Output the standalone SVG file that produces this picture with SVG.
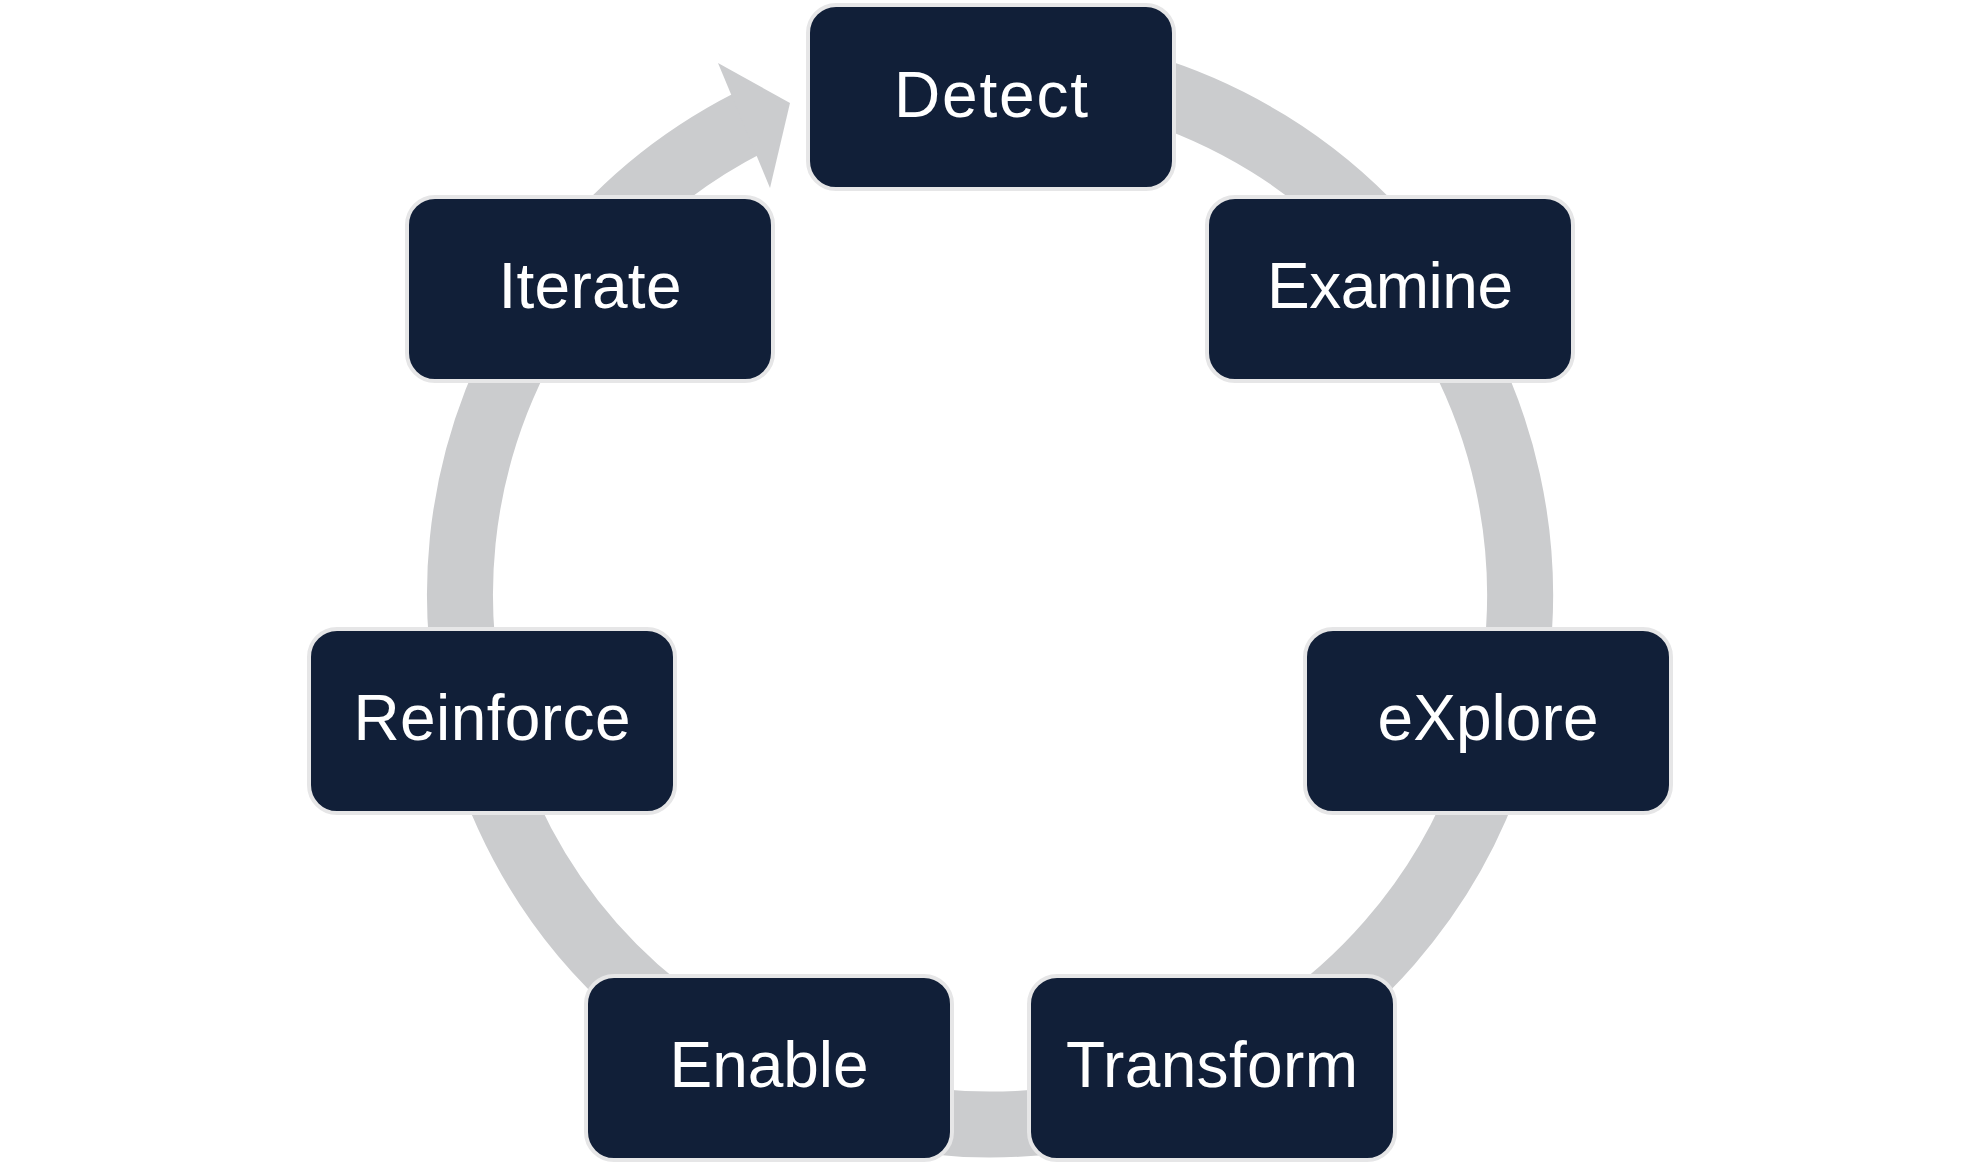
<svg xmlns="http://www.w3.org/2000/svg" width="1980" height="1168" viewBox="0 0 1980 1168">
  <style>
    .box { fill: #111F38; stroke: #E6E6E7; stroke-width: 4; }
    .lbl { fill: #FFFFFF; font-family: "Liberation Sans", Arial, sans-serif; font-size: 64px; text-anchor: middle; }
    .ring { fill: none; stroke: #CBCCCE; stroke-width: 66; stroke-linecap: butt; }
    .head { fill: #CBCCCE; }
  </style>
  <rect width="1980" height="1168" fill="#FFFFFF"/>
  <g id="connectors">
    <path class="ring" d="M 898.0 72.6 A 530 530 0 1 1 749.4 122.3"/>
    <polygon class="head" points="718,63 790,103 770,188"/>
  </g>
  <g id="node-detect">
    <rect class="box" x="808" y="5" width="366" height="184" rx="28"/>
    <text class="lbl" x="991" y="117" textLength="194">Detect</text>
  </g>
  <g id="node-examine">
    <rect class="box" x="1207" y="197" width="366" height="184" rx="28"/>
    <text class="lbl" x="1390" y="308" textLength="246">Examine</text>
  </g>
  <g id="node-explore">
    <rect class="box" x="1305" y="629" width="366" height="184" rx="28"/>
    <text class="lbl" x="1488" y="740" textLength="221">eXplore</text>
  </g>
  <g id="node-transform">
    <rect class="box" x="1029" y="976" width="366" height="184" rx="28"/>
    <text class="lbl" x="1212" y="1087" textLength="292">Transform</text>
  </g>
  <g id="node-enable">
    <rect class="box" x="586" y="976" width="366" height="184" rx="28"/>
    <text class="lbl" x="769" y="1087" textLength="199">Enable</text>
  </g>
  <g id="node-reinforce">
    <rect class="box" x="309" y="629" width="366" height="184" rx="28"/>
    <text class="lbl" x="492" y="740" textLength="277">Reinforce</text>
  </g>
  <g id="node-iterate">
    <rect class="box" x="407" y="197" width="366" height="184" rx="28"/>
    <text class="lbl" x="590" y="308" textLength="183">Iterate</text>
  </g>
</svg>
